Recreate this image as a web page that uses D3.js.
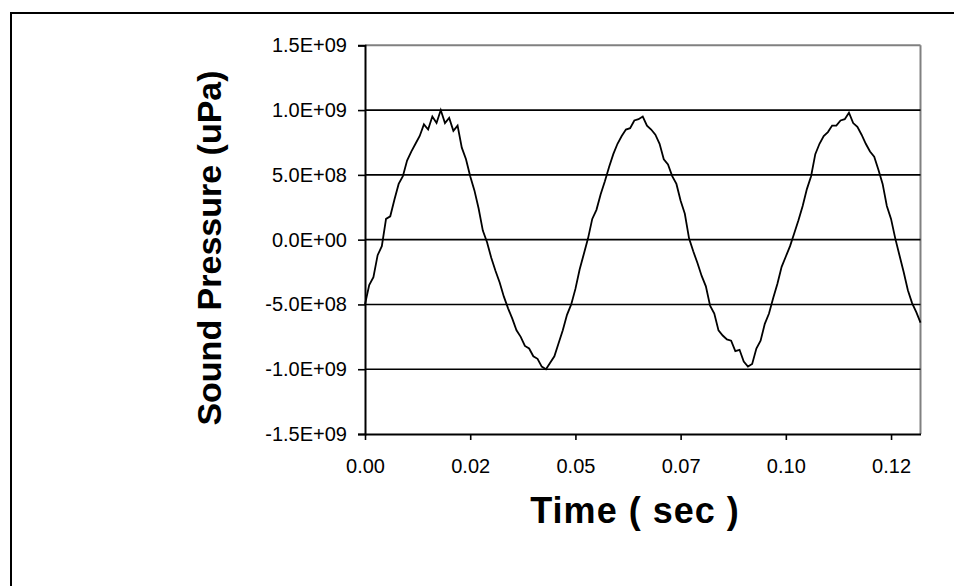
<!DOCTYPE html>
<html>
<head>
<meta charset="utf-8">
<script src="https://cdn.jsdelivr.net/npm/d3@7"></script>
<style>
  html, body { margin: 0; padding: 0; background: #fff; }
  svg { display: block; }
  text { font-family: "Liberation Sans", Arial, sans-serif; fill: #000; }
</style>
</head>
<body>
<svg id="chart" width="954" height="586"></svg>
<script>
// ---- data ----
// time in milliseconds
const timeMs = [
  0,1,2,3,4,5,6,7,8,9,10,11,12,13,14,15,16,17,18,19,
  20,21,22,23,24,25,26,27,28,29,30,31,32,33,34,35,36,37,38,39,
  40,41,42,43,44,45,46,47,48,49,50,51,52,53,54,55,56,57,58,59,
  60,61,62,63,64,65,66,67,68,69,70,71,72,73,74,75,76,77,78,79,
  80,81,82,83,84,85,86,87,88,89,90,91,92,93,94,95,96,97,98,99,
  100,101,102,103,104,105,106,107,108,109,110,111,112,113,114,115,116,117,118,119,
  120,121,122,123,124,125,126,127,128,129,130,131,132
];
// sound pressure in units of 1E+08 uPa
const pressureE8 = [
  -5.0,-3.5,-2.9,-1.2,-0.5, 1.6, 1.8, 3.1, 4.3, 4.9, 6.1, 6.8, 7.4, 8.0, 8.9, 8.5, 9.5, 9.0,10.0, 9.0,
   9.4, 8.4, 8.8, 7.1, 6.2, 4.9, 3.8, 2.4, 0.7,-0.2,-1.4,-2.4,-3.3,-4.4,-5.3,-6.1,-7.0,-7.5,-8.2,-8.4,
  -9.0,-9.2,-9.8,-10.0,-9.5,-9.0,-8.0,-7.0,-5.8,-5.0,-3.8,-2.3,-1.1, 0.1, 1.6, 2.3, 3.5, 4.5, 5.6, 6.6,
   7.4, 8.0, 8.5, 8.6, 9.2, 9.3, 9.5, 8.8, 8.5, 8.1, 7.4, 6.2, 5.8, 4.9, 4.3, 3.0, 2.0, 0.1,-0.9,-1.8,
  -2.8,-3.6,-5.1,-5.7,-7.0,-7.4,-7.7,-7.8,-8.6,-8.5,-9.4,-9.8,-9.6,-8.4,-7.8,-6.5,-5.7,-4.5,-3.4,-2.1,
  -1.3,-0.5, 0.5, 1.5, 2.6, 3.9, 4.9, 6.6, 7.4, 8.0, 8.3, 8.8, 8.8, 9.2, 9.3, 9.8, 9.0, 8.7, 8.1, 7.4,
   6.8, 6.4, 5.4, 4.3, 2.6, 1.6, 0.1,-1.2,-2.5,-3.9,-4.9,-5.6,-6.4
];
const xTickValues = [0, 0.025, 0.05, 0.075, 0.1, 0.125];
const xTickLabels = ["0.00", "0.02", "0.05", "0.07", "0.10", "0.12"];
const yTickValues = [1.5e9, 1.0e9, 5.0e8, 0, -5.0e8, -1.0e9, -1.5e9];
const yTickLabels = ["1.5E+09", "1.0E+09", "5.0E+08", "0.0E+00", "-5.0E+08", "-1.0E+09", "-1.5E+09"];
const xTitle = "Time ( sec )";
const yTitle = "Sound Pressure (uPa)";

const data = timeMs.map((t, i) => ({ t: t / 1000, p: pressureE8[i] * 1e8 }));

// ---- layout ----
const svg = d3.select("#chart");
const plot = { left: 365, right: 920.5, top: 45.3, bottom: 434 };

// outer chart frame (extends past right/bottom of the picture)
svg.append("rect")
  .attr("x", 11).attr("y", 13)
  .attr("width", 1200).attr("height", 800)
  .attr("fill", "none").attr("stroke", "#000").attr("stroke-width", 2);

const x = d3.scaleLinear().domain([0, 0.132]).range([plot.left, plot.right]);
const y = d3.scaleLinear().domain([-1.5e9, 1.5e9]).range([plot.bottom, plot.top]);

// plot area border (gray top and right)
svg.append("line")
  .attr("x1", plot.left).attr("x2", plot.right)
  .attr("y1", plot.top).attr("y2", plot.top)
  .attr("stroke", "#808080").attr("stroke-width", 2);
svg.append("line")
  .attr("x1", plot.right).attr("x2", plot.right)
  .attr("y1", plot.top).attr("y2", plot.bottom)
  .attr("stroke", "#808080").attr("stroke-width", 2);

// gridlines
svg.append("g")
  .selectAll("line")
  .data(yTickValues.filter(v => v < 1.5e9 && v > -1.5e9))
  .join("line")
  .attr("x1", plot.left).attr("x2", plot.right)
  .attr("y1", d => y(d)).attr("y2", d => y(d))
  .attr("stroke", "#000").attr("stroke-width", 1.6);

// y axis
const yAxis = d3.axisLeft(y)
  .tickValues(yTickValues)
  .tickFormat((d, i) => yTickLabels[i])
  .tickSize(7).tickPadding(11);
const gy = svg.append("g").attr("transform", `translate(${plot.left},0)`).call(yAxis);
gy.select(".domain").attr("stroke", "#000").attr("stroke-width", 2);
gy.selectAll(".tick line").attr("stroke", "#000").attr("stroke-width", 1.6);
gy.selectAll(".tick text").attr("font-size", 20).attr("font-family", "Liberation Sans, Arial, sans-serif");

// x axis
const xAxis = d3.axisBottom(x)
  .tickValues(xTickValues)
  .tickFormat((d, i) => xTickLabels[i])
  .tickSize(6).tickSizeOuter(0).tickPadding(19);
const gx = svg.append("g").attr("transform", `translate(0,${plot.bottom})`).call(xAxis);
gx.select(".domain").attr("stroke", "#000").attr("stroke-width", 2);
gx.selectAll(".tick line").attr("stroke", "#000").attr("stroke-width", 1.6);
gx.selectAll(".tick text").attr("font-size", 20).attr("font-family", "Liberation Sans, Arial, sans-serif");

// data line
const line = d3.line().x(d => x(d.t)).y(d => y(d.p));
svg.append("path")
  .datum(data)
  .attr("d", line)
  .attr("fill", "none")
  .attr("stroke", "#000")
  .attr("stroke-width", 1.8)
  .attr("stroke-linejoin", "miter");

// axis titles
svg.append("text")
  .attr("x", 635).attr("y", 523)
  .attr("text-anchor", "middle")
  .attr("font-size", 36).attr("font-weight", "bold")
  .attr("letter-spacing", 1)
  .text(xTitle);

svg.append("text")
  .attr("transform", "translate(221,248) rotate(-90)")
  .attr("text-anchor", "middle")
  .attr("font-size", 34).attr("font-weight", "bold")
  .text(yTitle);
</script>
</body>
</html>
